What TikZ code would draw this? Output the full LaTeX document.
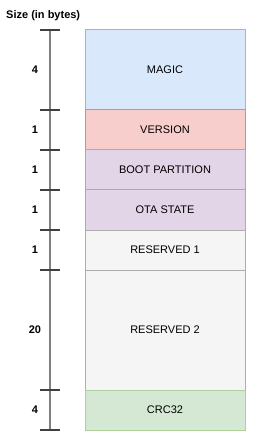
\documentclass[tikz,border=0pt]{standalone}
\usepackage{fontspec}
\setmainfont{Liberation Sans}
\usetikzlibrary{positioning}

\definecolor{magicfill}{HTML}{DAE8FC}
\definecolor{magicline}{HTML}{9DB5DA}
\definecolor{versfill}{HTML}{F8CECC}
\definecolor{versline}{HTML}{D18D8B}
\definecolor{bootfill}{HTML}{E1D5E7}
\definecolor{bootline}{HTML}{B7A1C3}
\definecolor{resfill}{HTML}{F5F5F5}
\definecolor{resline}{HTML}{ADADAD}
\definecolor{crcfill}{HTML}{D5E8D4}
\definecolor{crcline}{HTML}{AFD09B}

\tikzset{
  field/.style={draw, line width=1pt, minimum width=160pt, inner sep=0pt,
    outer sep=0pt, font=\fontsize{11}{13}\selectfont},
  size/.style={font=\fontsize{11}{13}\selectfont\bfseries},
  tick/.style={line width=1.5pt, black!75}
}

\begin{document}
\begin{tikzpicture}[x=1pt, y=-1pt]
    \useasboundingbox (0,0) rectangle (262,443);

    \node[size, anchor=west, inner sep=0pt] (title) at (6,16) {Size (in bytes)};

    % Felder des Headers
    \node[field, fill=magicfill, draw=magicline, minimum height=80pt, anchor=north west] (magic) at (85,30) {MAGIC};
    \node[field, fill=versfill, draw=versline, minimum height=40pt, below=0pt of magic] (version) {VERSION};
    \node[field, fill=bootfill, draw=bootline, minimum height=40pt, below=0pt of version] (boot) {BOOT PARTITION};
    \node[field, fill=bootfill, draw=bootline, minimum height=40pt, below=0pt of boot] (ota) {OTA STATE};
    \node[field, fill=resfill, draw=resline, minimum height=40pt, below=0pt of ota] (res1) {RESERVED 1};
    \node[field, fill=resfill, draw=resline, minimum height=120pt, below=0pt of res1] (res2) {RESERVED 2};
    \node[field, fill=crcfill, draw=crcline, minimum height=40pt, below=0pt of res2] (crc) {CRC32};

    % Skala
    \coordinate (axis) at (50,0);
    \coordinate (t0) at (magic.north -| axis);
    \coordinate (t1) at (version.north -| axis);
    \coordinate (t2) at (boot.north -| axis);
    \coordinate (t3) at (ota.north -| axis);
    \coordinate (t4) at (res1.north -| axis);
    \coordinate (t5) at (res2.north -| axis);
    \coordinate (t6) at (crc.north -| axis);
    \coordinate (t7) at (crc.south -| axis);
    \draw[line width=1.5pt, black!50] (t0) -- (t7);
    \foreach \t in {t0,t1,t2,t3,t4,t5,t6,t7}
        \draw[tick] ([xshift=-10pt]\t) -- ([xshift=10pt]\t);

    \path (t0) -- (t1) node[midway, xshift=-15pt, size] (s0) {4};
    \path (t1) -- (t2) node[midway, xshift=-15pt, size] (s1) {1};
    \path (t2) -- (t3) node[midway, xshift=-15pt, size] (s2) {1};
    \path (t3) -- (t4) node[midway, xshift=-15pt, size] (s3) {1};
    \path (t4) -- (t5) node[midway, xshift=-15pt, size] (s4) {1};
    \path (t5) -- (t6) node[midway, xshift=-15pt, size] (s5) {20};
    \path (t6) -- (t7) node[midway, xshift=-15pt, size] (s6) {4};
\end{tikzpicture}
\end{document}
